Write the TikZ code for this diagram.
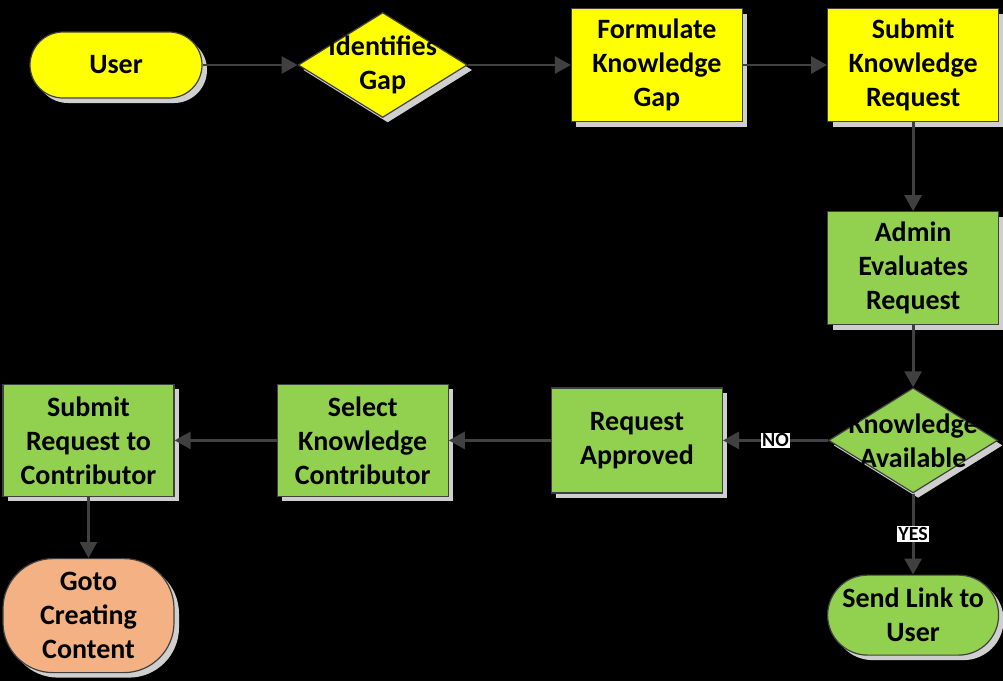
\documentclass[tikz,border=0pt]{standalone}
\usepackage{fontspec}
\setmainfont{Carlito}
\usepackage{tikz}
\usetikzlibrary{shapes,arrows.meta,positioning,shadows}
\definecolor{fillyellow}{HTML}{FFFF00}
\definecolor{fillgreen}{HTML}{92D050}
\definecolor{fillorange}{HTML}{F4B183}
\definecolor{edgegray}{HTML}{404040}
\definecolor{shadowgray}{HTML}{CFCFCF}
\tikzstyle{shade} = [drop shadow={shadow xshift=5pt, shadow yshift=-5pt, fill=shadowgray, opacity=1}]
\tikzstyle{block} = [rectangle, draw=edgegray, line width=1.2pt, shade, align=center, minimum width=171pt, minimum height=113pt, text=black, font=\fontsize{28}{34}\selectfont\bfseries]
\tikzstyle{terminal} = [block, rounded corners=33pt, minimum height=66pt]
\tikzstyle{decision} = [diamond, draw=edgegray, line width=1.2pt, shade, inner sep=0pt, minimum width=169pt, minimum height=105pt]
\tikzstyle{dtext} = [align=center, text=black, font=\fontsize{28}{34}\selectfont\bfseries]
\tikzstyle{line} = [draw=edgegray, line width=2.8pt, -{Triangle[length=16pt,width=17pt]}]
\tikzstyle{answer} = [fill=white, text=black, inner sep=1pt, font=\fontsize{20}{20}\selectfont\bfseries]

\begin{document}
\begin{tikzpicture}
            \fill[black] (0,0) rectangle (1003pt,-681pt);
            \node [terminal, fill=fillyellow, minimum width=172pt] at (116pt,-65pt) (user) {User};
            \node [decision, fill=fillyellow, right=95pt of user, label={[dtext]center:Identifies\\Gap}] (gap) {};
            \node [block, fill=fillyellow, right=103pt of gap] (formulate) {Formulate\\Knowledge\\Gap};
            \node [block, fill=fillyellow, right=84pt of formulate] (submitreq) {Submit\\Knowledge\\Request};
            \node [block, fill=fillgreen, below=89pt of submitreq] (evaluate) {Admin\\Evaluates\\Request};
            \node [decision, fill=fillgreen, below=62pt of evaluate, label={[dtext]center:Knowledge\\Available}] (available) {};
            \node [terminal, fill=fillgreen, rounded corners=40pt, minimum height=80pt, below=81pt of available] (sendlink) {Send Link to\\User};
            \node [block, fill=fillgreen, minimum height=105pt, left=105pt of available] (approved) {Request\\Approved};
            \node [block, fill=fillgreen, minimum height=112pt, left=102pt of approved] (select) {Select\\Knowledge\\Contributor};
            \node [block, fill=fillgreen, minimum height=112pt, left=102pt of select] (submitcon) {Submit\\Request to\\Contributor};
            \node [block, fill=fillorange, rounded corners=50pt, minimum height=114pt, below=61pt of submitcon] (goto) {Goto\\Creating\\Content};

            \draw[line] (user) -- (gap);
            \draw[line] (gap) -- (formulate);
            \draw[line] (formulate) -- (submitreq);
            \draw[line] (submitreq) -- (evaluate);
            \draw[line] (evaluate) -- (available);
            \draw[line] (available) -- node[answer]{NO} (approved);
            \draw[line] (available) -- node[answer]{YES} (sendlink);
            \draw[line] (approved) -- (select);
            \draw[line] (select) -- (submitcon);
            \draw[line] (submitcon) -- (goto);
        \end{tikzpicture}
\end{document}
